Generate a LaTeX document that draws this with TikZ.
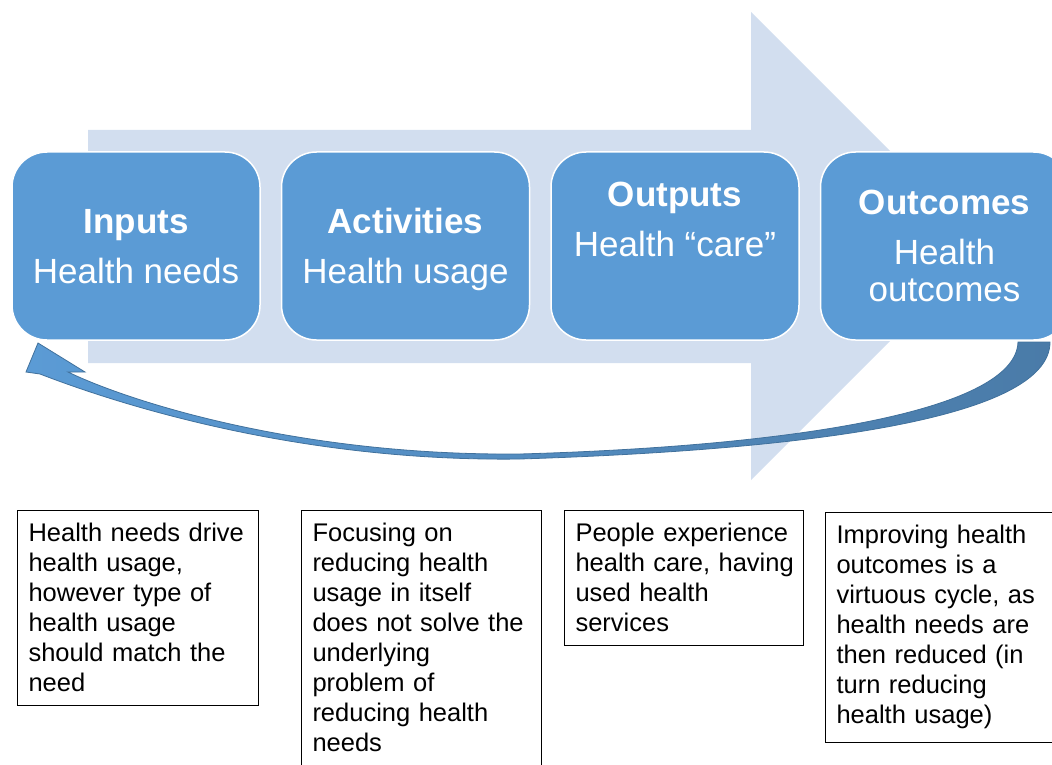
\documentclass[tikz,border=0pt]{standalone}
\usepackage{fontspec}
\setmainfont{Liberation Sans}
\usetikzlibrary{positioning}
\definecolor{stageblue}{HTML}{5B9BD5}
\definecolor{flowpale}{HTML}{D2DEEF}
\definecolor{loopdark}{HTML}{41719C}
\definecolor{loopmid}{HTML}{4A7BA8}
\tikzset{
    stagebox/.style = {rectangle, rounded corners=35pt, draw=white, line width=1.5pt, fill=stageblue, text=white, minimum width=248pt, minimum height=188pt, align=center, text depth=0pt, font=\fontsize{35}{37}\selectfont},
    notebox/.style = {rectangle, draw=black, line width=1pt, anchor=north west, align=left, inner xsep=11pt, inner ysep=13pt, font=\fontsize{25.5}{30}\selectfont},
    flowarrow/.style = {fill=flowpale},
    looparrow/.style = {draw=loopdark, line width=0.8pt, left color=stageblue, right color=loopmid}
}
\begin{document}
\begin{tikzpicture}[x=1pt,y=-1pt]
\useasboundingbox (0,0) rectangle (1052,765);
%
\path[flowarrow] (88,130) -- (751,130) -- (751,12) -- (985,246) -- (751,480) -- (751,363) -- (88,363) -- cycle;
%
\node[stagebox] at (136,246) (inputs) {\textbf{Inputs}\\[13pt]Health needs};
\node[stagebox, right=20pt of inputs] (activities) {\textbf{Activities}\\[13pt]Health usage};
\node[stagebox, right=20pt of activities, text depth=54pt] (outputs) {\textbf{Outputs}\\[13pt]Health “care”};
\node[stagebox, right=20pt of outputs] (outcomes) {\textbf{Outcomes}\\[13pt]Health\\outcomes};
%
\coordinate (loopstart) at (1034,342);
\coordinate (looptip) at (38,343);
\path[looparrow] ([xshift=16pt]loopstart) .. controls (1050,420) and (800,450) .. (520,459)
    .. controls (300,462) and (120,405) .. (40,374)
    -- (26,372) -- (looptip) -- (85,372) -- (68,372)
    .. controls (130,402) and (300,456) .. (520,454)
    .. controls (800,446) and (1016,410) .. ([xshift=-16pt]loopstart) -- cycle;
%
\node[notebox, text width=219pt] at (17,510) (needsnote) {Health needs drive\\health usage,\\however type of\\health usage\\should match the\\need};
\node[notebox, text width=218pt] at (301,510) (usagenote) {Focusing on\\reducing health\\usage in itself\\does not solve the\\underlying\\problem of\\reducing health\\needs};
\node[notebox, text width=217pt] at (564,510) (carenote) {People experience\\\mbox{health care, having}\\used health\\services};
\node[notebox, text width=218pt] at (825,512) (outcomenote) {Improving health\\outcomes is a\\virtuous cycle, as\\health needs are\\then reduced (in\\turn reducing\\health usage)};

\end{tikzpicture}
\end{document}
